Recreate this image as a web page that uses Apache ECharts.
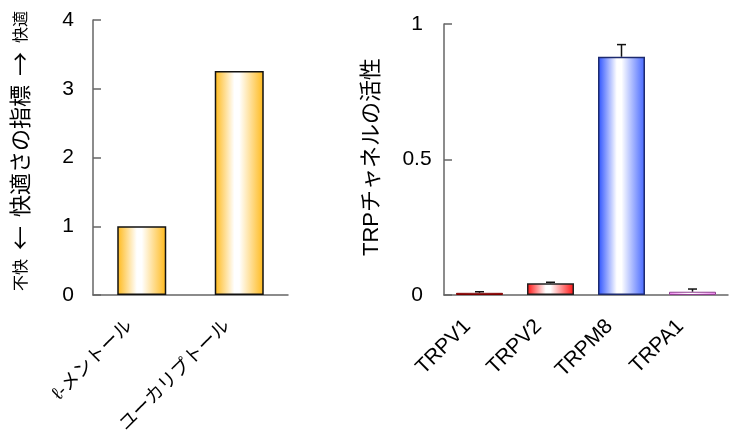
<!DOCTYPE html>
<html>
<head>
<meta charset="utf-8">
<script src="https://cdn.jsdelivr.net/npm/echarts@6/dist/echarts.min.js"></script>
<style>html,body{margin:0;padding:0;background:#fff}#c{width:731px;height:441px}</style>
</head>
<body>
<div id="c"></div>
<script>
// ---- data ----
var leftCategories = ['ℓ-メントール', 'ユーカリプトール'];
var leftValues = [1.0, 3.26];
var leftTicks = [0, 1, 2, 3, 4];

var rightCategories = ['TRPV1', 'TRPV2', 'TRPM8', 'TRPA1'];
var rightValues = [0.008, 0.043, 0.879, 0.012];
var rightErrors = [0.004, 0.004, 0.045, 0.010];
var rightTicks = [0, 0.5, 1];

var leftAxisName = ['不快', '←', '快適さの指標', '→', '快適'];
var rightAxisName = 'TRPチャネルの活性';

// ---- styles ----
var FONT = '"Liberation Sans", "Noto Sans CJK JP", sans-serif';
var CJK = '"Noto Sans CJK JP", sans-serif';
function grad(edge, edgeR) {
  return {
    type: 'linear', x: 0, y: 0, x2: 1, y2: 0,
    colorStops: [
      {offset: 0, color: edge},
      {offset: 0.4, color: '#ffffff'},
      {offset: 0.5, color: '#ffffff'},
      {offset: 1, color: edgeR || edge}
    ]
  };
}
var leftColors = [grad('#ffb91a'), grad('#ffb91a')];
var rightColors = [grad('#ff1010'), grad('#ff1010'), grad('#2a50ff', '#4466ff'), grad('#f080f0')];
var rightBorders = ['#7a0000', '#222', '#1d2a6e', '#904090'];
var rightBorderWidths = [1, 1.5, 1.5, 1];

var chart = echarts.init(document.getElementById('c'), null, {renderer: 'canvas'});

function axisCommon(extra) {
  return Object.assign({
    axisLine: {show: true, lineStyle: {color: '#666', width: 1.5}},
    axisTick: {show: true, inside: true, length: 8, lineStyle: {color: '#666', width: 1.5}},
    splitLine: {show: false}
  }, extra);
}
var xLabelLeft = {rotate: 45, interval: 0, margin: 16, padding: [0, 17, 0, 0], fontSize: 18.5, color: '#000', fontFamily: FONT};
var xLabelRight = {rotate: 45, interval: 0, margin: 16, padding: [0, 17, 0, 0], fontSize: 21, color: '#000', fontFamily: FONT};

var option = {
  animation: false,
  backgroundColor: '#fff',
  textStyle: {fontFamily: FONT},
  grid: [
    {left: 93, top: 20, width: 195, height: 275, containLabel: false, outerBoundsMode: 'none'},
    {left: 444, top: 24, width: 284, height: 271, containLabel: false, outerBoundsMode: 'none'}
  ],
  xAxis: [
    axisCommon({type: 'category', gridIndex: 0, data: leftCategories, axisTick: {show: false}, axisLabel: xLabelLeft}),
    axisCommon({type: 'category', gridIndex: 1, data: rightCategories, axisTick: {show: false}, axisLabel: xLabelRight})
  ],
  yAxis: [
    axisCommon({
      type: 'value', gridIndex: 0, min: leftTicks[0], max: leftTicks[leftTicks.length - 1], interval: 1,
      axisLabel: {margin: 25, align: 'center', fontSize: 21, color: '#000', fontFamily: FONT}
    }),
    axisCommon({
      type: 'value', gridIndex: 1, min: rightTicks[0], max: rightTicks[rightTicks.length - 1], interval: 0.5,
      axisLabel: {margin: 27, align: 'center', fontSize: 21, color: '#000', fontFamily: FONT}
    })
  ],
  series: [
    {
      type: 'bar', xAxisIndex: 0, yAxisIndex: 0, barWidth: 49,
      data: leftValues.map(function (v, i) {
        return {value: v, itemStyle: {color: leftColors[i], borderColor: '#111', borderWidth: 1.5}};
      })
    },
    {
      type: 'bar', xAxisIndex: 1, yAxisIndex: 1, barWidth: 47,
      data: rightValues.map(function (v, i) {
        return {value: v, itemStyle: {color: rightColors[i], borderColor: rightBorders[i], borderWidth: rightBorderWidths[i]}};
      })
    },
    {
      type: 'custom', xAxisIndex: 1, yAxisIndex: 1, z: 1,
      data: rightValues.map(function (v, i) { return [i, v, v + rightErrors[i]]; }),
      renderItem: function (params, api) {
        var base = api.coord([api.value(0), api.value(1)]);
        var top = api.coord([api.value(0), api.value(2)]);
        var half = 4.5;
        return {
          type: 'group',
          children: [
            {type: 'line', shape: {x1: base[0], y1: base[1], x2: top[0], y2: top[1]}, style: {stroke: '#111', lineWidth: 1.5}},
            {type: 'line', shape: {x1: top[0] - half, y1: top[1], x2: top[0] + half, y2: top[1]}, style: {stroke: '#111', lineWidth: 1.5}}
          ]
        };
      }
    }
  ],
  graphic: [
    {
      type: 'text', x: 20, y: 151, rotation: Math.PI / 2,
      style: {
        text: '{s|' + leftAxisName[0] + '}{a|' + leftAxisName[1] + '}{m|' + leftAxisName[2] + '}{a|' + leftAxisName[3] + '}{s|' + leftAxisName[4] + '}',
        align: 'center', verticalAlign: 'middle', fill: '#000',
        rich: {
          s: {fontSize: 16, fontFamily: CJK, fill: '#000'},
          a: {fontSize: 24, fontFamily: CJK, fill: '#000', padding: [0, 9, 0, 9]},
          m: {fontSize: 22, fontFamily: CJK, fill: '#000'}
        }
      }
    },
    {
      type: 'text', x: 372, y: 157, rotation: Math.PI / 2,
      style: {
        text: rightAxisName, align: 'center', verticalAlign: 'middle',
        fontSize: 22, fontFamily: FONT, fill: '#000'
      }
    }
  ]
};
chart.setOption(option);
</script>
</body>
</html>
